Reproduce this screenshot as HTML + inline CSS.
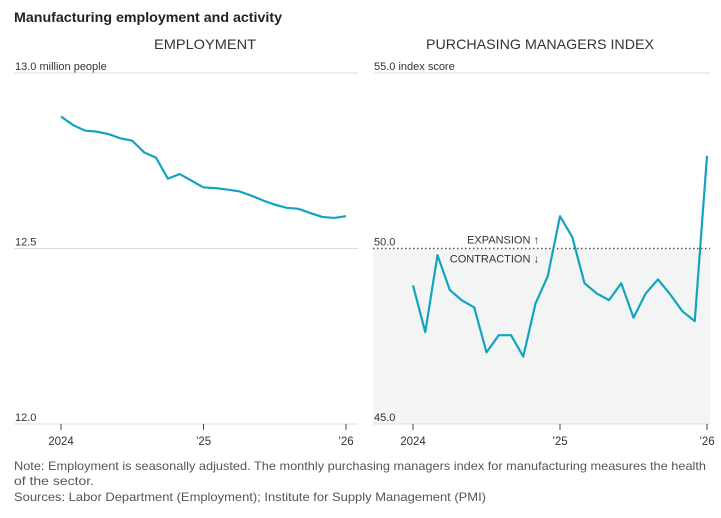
<!DOCTYPE html>
<html><head><meta charset="utf-8"><style>
body{margin:0;background:#fff;width:721px;height:518px;overflow:hidden}
svg{display:block;font-family:"Liberation Sans",sans-serif}
</style></head><body>
<svg id="c" width="721" height="518">
<text x="14" y="22" font-size="14" font-weight="bold" fill="#222" textLength="268" lengthAdjust="spacingAndGlyphs">Manufacturing employment and activity</text>
<text x="205" y="49" font-size="14" fill="#333" text-anchor="middle" textLength="102" lengthAdjust="spacingAndGlyphs">EMPLOYMENT</text>
<text x="540" y="49" font-size="14" fill="#333" text-anchor="middle" textLength="228" lengthAdjust="spacingAndGlyphs">PURCHASING MANAGERS INDEX</text>
<g id="L"></g><g id="R"></g>
<text x="14" y="470" font-size="12" fill="#555" textLength="692" lengthAdjust="spacingAndGlyphs">Note: Employment is seasonally adjusted. The monthly purchasing managers index for manufacturing measures the health</text>
<text x="14" y="485" font-size="12" fill="#555" textLength="80" lengthAdjust="spacingAndGlyphs">of the sector.</text>
<text x="14" y="501" font-size="12" fill="#555" textLength="472" lengthAdjust="spacingAndGlyphs">Sources: Labor Department (Employment); Institute for Supply Management (PMI)</text>
</svg>
<script>
const empValues=[12.876,12.852,12.836,12.833,12.826,12.814,12.807,12.774,12.759,12.699,12.712,12.693,12.674,12.672,12.668,12.663,12.651,12.637,12.625,12.616,12.613,12.601,12.590,12.587,12.592];
const pmiValues=[48.95,47.62,49.81,48.82,48.52,48.32,47.04,47.53,47.53,46.92,48.43,49.21,50.92,50.33,49.01,48.72,48.53,49.01,48.03,48.72,49.12,48.69,48.21,47.93,52.64];
const xTickLabels=["2024","\u201925","\u201926"];
const xTickMonths=[0,12,24];
const empTicks=[12.0,12.5,13.0];
const empTickLabels=["12.0","12.5","13.0 million people"];
const pmiTicks=[45,50,55];
const pmiTickLabels=["45.0","50.0","55.0 index score"];
const NS="http://www.w3.org/2000/svg";
function mk(p,t,a,txt){const e=document.createElementNS(NS,t);for(const k in a)e.setAttribute(k,a[k]);if(txt!=null)e.textContent=txt;p.appendChild(e);return e;}
function panel(g,vals,ticks,labels,lo,hi,x0,x1,px0,px1,name,shade){
 const yT=73,yB=424;
 const y=v=>yB-(v-lo)/(hi-lo)*(yB-yT);
 const x=i=>px0+i*(px1-px0)/24;
 if(shade){const r=mk(g,'rect',{x:x0,y:y(50),width:x1-x0,height:yB-y(50),fill:'#f3f5f4'});
 
 }
 ticks.forEach((t,i)=>{
  const dotted=shade&&t===50;
  const l=mk(g,'line',{x1:x0,x2:x1,y1:y(t),y2:y(t),stroke:dotted?'#555':'#ddd','stroke-width':dotted?1.5:1,'stroke-dasharray':dotted?'1.5 2.5':''});
  
  
  const tx=mk(g,'text',{x:x0+1,y:y(t)-3,'font-size':11,fill:'#333'},labels[i]);
  
  
 });
 xTickMonths.forEach((m,i)=>{
  const tl=mk(g,'line',{x1:x(m),x2:x(m),y1:yB,y2:yB+6,stroke:'#444'});
  
  
  const tt=mk(g,'text',{x:x(m),y:yB+21,'font-size':11.5,fill:'#333','text-anchor':'middle'},xTickLabels[i]);
  
  
 });
 const p=mk(g,'polyline',{points:vals.map((v,i)=>x(i)+','+y(v)).join(' '),fill:'none',stroke:'#13a3c0','stroke-width':2.2,'stroke-linejoin':'round'});
 
 
 return y;
}
panel(document.getElementById('L'),empValues,empTicks,empTickLabels,12,13,14,358,61,346,'employment',false);
const yR=panel(document.getElementById('R'),pmiValues,pmiTicks,pmiTickLabels,45,55,373,710,413,707,'pmi',true);
const g=document.getElementById('R');
const e1=mk(g,'text',{x:539,y:yR(50)-5,'font-size':11,fill:'#333','text-anchor':'end'},'EXPANSION  \u2191');


e1.setAttribute('xml:space','preserve');
const e2=mk(g,'text',{x:539,y:yR(50)+14,'font-size':11,fill:'#333','text-anchor':'end'},'CONTRACTION  \u2193');


e2.setAttribute('xml:space','preserve');
</script>
</body></html>
